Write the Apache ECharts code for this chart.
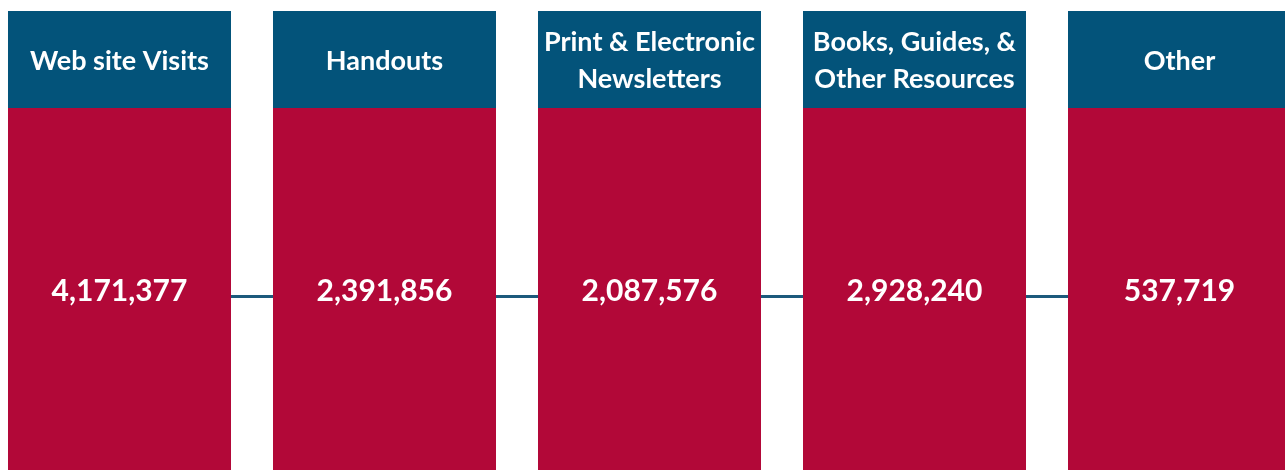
<!DOCTYPE html>
<html>
<head>
<meta charset="utf-8">
<script src="https://cdn.jsdelivr.net/npm/echarts@6/dist/echarts.min.js"></script>
<style>
  html, body { margin: 0; padding: 0; background: #fff; }
  #chart { width: 1285px; height: 470px; }
</style>
</head>
<body>
<div id="chart"></div>
<script>
// categories and their counts
var categories = ['Web site Visits', 'Handouts', 'Print & Electronic\nNewsletters', 'Books, Guides, &\nOther Resources', 'Other'];
var values = [4171377, 2391856, 2087576, 2928240, 537719];

var headerColor = '#03537A';
var bodyColor = '#B20838';
var lineColor = '#1D5A7C';
var fontFamily = 'Lato, "Open Sans", sans-serif';

function fmt(n) {
    return n.toString().replace(/\B(?=(\d{3})+(?!\d))/g, ',');
}

var chart = echarts.init(document.getElementById('chart'));

chart.setOption({
    animation: false,
    grid: { left: 0, right: 0, top: 11, bottom: 0 },
    // one unit = one column pitch (265px); last column runs off the right edge
    xAxis: {
        type: 'value',
        min: -0.45094,
        max: 4.39811,
        show: false
    },
    yAxis: {
        type: 'value',
        min: 0,
        max: 1,
        show: false
    },
    series: [{
        type: 'custom',
        clip: false,
        data: values.map(function (v, i) { return [i, v]; }),
        renderItem: function (params, api) {
            var i = api.value(0);
            var top = api.coord([i, 1]);
            var bottom = api.coord([i, 0]);
            var pitch = api.size([1, 0])[0];
            var w = pitch * 223 / 265;
            var x = top[0] - w / 2;
            var headH = 97;
            var h = bottom[1] - top[1];
            var children = [
                {
                    type: 'rect',
                    shape: { x: x, y: top[1], width: w, height: headH },
                    style: { fill: headerColor }
                },
                {
                    type: 'rect',
                    shape: { x: x, y: top[1] + headH, width: w, height: h - headH },
                    style: { fill: bodyColor }
                },
                {
                    type: 'text',
                    x: top[0],
                    y: top[1] + 50,
                    style: {
                        text: categories[i],
                        fill: '#fff',
                        font: 'bold 27px ' + fontFamily,
                        lineHeight: 37,
                        align: 'center',
                        verticalAlign: 'middle'
                    }
                },
                {
                    type: 'text',
                    x: top[0],
                    y: top[1] + 280,
                    style: {
                        text: fmt(api.value(1)),
                        fill: '#fff',
                        font: 'bold 30px ' + fontFamily,
                        align: 'center',
                        verticalAlign: 'middle'
                    }
                }
            ];
            if (i > 0) {
                var prev = api.coord([i - 1, 1]);
                children.push({
                    type: 'line',
                    shape: {
                        x1: prev[0] + w / 2, y1: top[1] + 285.5,
                        x2: x, y2: top[1] + 285.5
                    },
                    style: { stroke: lineColor, lineWidth: 3 }
                });
            }
            return { type: 'group', children: children };
        }
    }]
});
</script>
</body>
</html>
